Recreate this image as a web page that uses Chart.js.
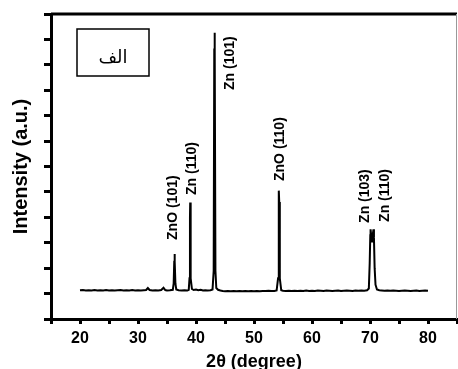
<!DOCTYPE html>
<html>
<head>
<meta charset="utf-8">
<script src="https://cdn.jsdelivr.net/npm/chart.js@4/dist/chart.umd.min.js"></script>
<style>
html,body{margin:0;padding:0;background:#fff;}
canvas{display:block;}
</style>
</head>
<body>
<canvas id="c" width="458" height="369"></canvas>
<script>
// ---- data ----
const twoTheta = [
 20.0,20.5,21.0,21.5,22.0,22.5,23.0,23.5,24.0,24.5,
 25.0,25.5,26.0,26.5,27.0,27.5,28.0,28.5,29.0,29.5,
 30.0,30.5,31.0,31.4,31.7,32.0,32.5,33.0,33.5,34.0,
 34.4,34.7,35.0,35.5,36.0,36.15,36.25,36.3,36.35,36.45,
 36.6,37.0,37.5,38.0,38.5,38.75,38.88,38.96,39.0,39.04,
 39.12,39.3,39.6,40.0,40.4,40.8,41.2,41.6,42.0,42.5,
 42.85,43.05,43.15,43.2,43.25,43.35,43.5,43.8,44.2,44.6,
 45.0,45.5,46.0,46.5,47.0,47.5,48.0,48.5,49.0,49.5,
 50.0,50.5,51.0,51.5,52.0,52.5,53.0,53.5,53.9,54.15,
 54.25,54.3,54.35,54.45,54.7,55.0,55.5,56.0,56.5,57.0,
 57.5,58.0,58.5,59.0,59.5,60.0,60.5,61.0,61.5,62.0,
 62.5,63.0,63.5,64.0,64.5,65.0,65.5,66.0,66.5,67.0,
 67.5,68.0,68.5,69.0,69.5,69.8,69.95,70.05,70.1,70.2,
 70.35,70.5,70.6,70.68,70.8,70.95,71.2,71.6,72.0,72.5,
 73.0,73.5,74.0,74.5,75.0,75.5,76.0,76.5,77.0,77.5,
 78.0,78.5,79.0,79.5,80.0
];
const intensity = [
 1.13,1.14,1.12,1.13,1.12,1.14,1.12,1.13,1.12,1.14,
 1.12,1.13,1.12,1.13,1.14,1.12,1.13,1.12,1.14,1.12,
 1.13,1.12,1.13,1.14,1.22,1.14,1.12,1.13,1.12,1.14,
 1.23,1.14,1.12,1.13,1.15,1.40,2.25,2.56,2.25,1.40,
 1.16,1.13,1.12,1.13,1.12,1.15,1.60,4.00,4.58,4.00,
 1.60,1.18,1.14,1.16,1.13,1.15,1.12,1.13,1.12,1.13,
 1.16,1.90,10.60,11.26,10.60,1.90,1.22,1.15,1.12,1.10,
 1.09,1.10,1.09,1.10,1.09,1.10,1.09,1.10,1.09,1.10,
 1.09,1.10,1.09,1.10,1.10,1.11,1.10,1.10,1.12,1.60,
 4.60,5.05,4.60,1.60,1.13,1.11,1.10,1.11,1.10,1.11,
 1.10,1.11,1.10,1.12,1.10,1.11,1.10,1.12,1.11,1.10,
 1.12,1.11,1.10,1.11,1.12,1.10,1.11,1.12,1.11,1.10,
 1.12,1.11,1.12,1.11,1.13,1.20,2.20,3.30,3.53,3.30,
 3.05,3.35,3.53,3.20,2.00,1.35,1.16,1.13,1.12,1.11,
 1.12,1.11,1.12,1.11,1.10,1.11,1.12,1.11,1.10,1.11,
 1.12,1.10,1.11,1.12,1.11
];
const xTickLabels = [20, 30, 40, 50, 60, 70, 80];
const peakLabels = ['ZnO (101)', 'Zn (110)', 'Zn (101)', 'ZnO (110)', 'Zn (103)', 'Zn (110)'];
const peakLabelTheta = [36.03, 39.31, 45.86, 54.48, 69.14, 72.59];
const peakLabelBase = [3.11, 4.88, 9.01, 5.43, 3.78, 3.82];
const panelLabel = 'الف';
const xTitle = '2θ (degree)';
const yTitle = 'Intensity (a.u.)';

const FONT = "'Liberation Sans', Arial, sans-serif";

const framePlugin = {
  id: 'frame',
  afterDraw(chart) {
    const {ctx, chartArea: a} = chart;
    ctx.save();
    ctx.strokeStyle = '#000';
    ctx.lineWidth = 3;
    ctx.beginPath();
    ctx.moveTo(a.left, a.top);
    ctx.lineTo(a.right, a.top);
    ctx.stroke();
    ctx.strokeStyle = '#999';
    ctx.lineWidth = 1;
    ctx.beginPath();
    ctx.moveTo(a.right - 0.5, a.top);
    ctx.lineTo(a.right - 0.5, a.bottom);
    ctx.stroke();
    ctx.strokeStyle = '#000';
    ctx.lineWidth = 1.5;
    ctx.strokeRect(a.left + 26, a.top + 15, 72, 47);
    ctx.fillStyle = '#000';
    ctx.font = "18px 'Liberation Serif', 'DejaVu Sans', serif";
    ctx.textAlign = 'center';
    ctx.textBaseline = 'alphabetic';
    ctx.fillText(panelLabel, a.left + 62, a.top + 49);
    ctx.restore();
  }
};

const peakLabelPlugin = {
  id: 'peakLabels',
  afterDatasetsDraw(chart) {
    const {ctx, scales} = chart;
    ctx.save();
    ctx.fillStyle = '#000';
    ctx.font = 'bold 14px ' + FONT;
    ctx.textAlign = 'left';
    ctx.textBaseline = 'middle';
    peakLabels.forEach((t, i) => {
      const x = scales.x.getPixelForValue(peakLabelTheta[i]);
      const y = scales.y.getPixelForValue(peakLabelBase[i]);
      ctx.save();
      ctx.translate(x, y);
      ctx.rotate(-Math.PI / 2);
      ctx.fillText(t, 0, 0);
      ctx.restore();
    });
    ctx.restore();
  }
};

new Chart(document.getElementById('c'), {
  type: 'scatter',
  data: {
    datasets: [{
      data: twoTheta.map((t, i) => ({x: t, y: intensity[i]})),
      showLine: true,
      borderColor: '#000',
      borderWidth: 2,
      pointRadius: 0,
      tension: 0,
      fill: false
    }]
  },
  options: {
    responsive: false,
    animation: false,
    layout: {padding: {top: 14, right: 1, left: 0, bottom: 0}},
    plugins: {legend: {display: false}, tooltip: {enabled: false}},
    scales: {
      x: {
        type: 'linear',
        min: 15, max: 85,
        afterFit(s) { s.height = 50; s.paddingLeft = 0; s.paddingRight = 0; },
        border: {display: true, color: '#000', width: 3},
        grid: {display: true, drawOnChartArea: false, drawTicks: true, tickLength: 5, tickWidth: 3, color: '#000'},
        ticks: {
          stepSize: 5, autoSkip: false, maxRotation: 0, padding: 5,
          color: '#000',
          font: {family: FONT, size: 16, weight: 'bold'},
          callback: (v) => xTickLabels.includes(v) ? String(v) : ''
        },
        title: {display: true, text: xTitle, color: '#000',
          font: {family: FONT, size: 18, weight: 'bold', lineHeight: 1},
          padding: {top: 0, bottom: -2}}
      },
      y: {
        type: 'linear',
        min: 0, max: 12,
        afterFit(s) { s.width = 51; s.paddingTop = 0; s.paddingBottom = 0; },
        border: {display: true, color: '#000', width: 3},
        grid: {display: true, drawOnChartArea: false, drawTicks: true, tickLength: 7, tickWidth: 3, color: '#000'},
        ticks: {stepSize: 1, display: false},
        title: {display: true, text: yTitle, color: '#000',
          font: {family: FONT, size: 20, weight: 'bold', lineHeight: 1},
          padding: {top: 11, bottom: 0}}
      }
    }
  },
  plugins: [framePlugin, peakLabelPlugin]
});
</script>
</body>
</html>
